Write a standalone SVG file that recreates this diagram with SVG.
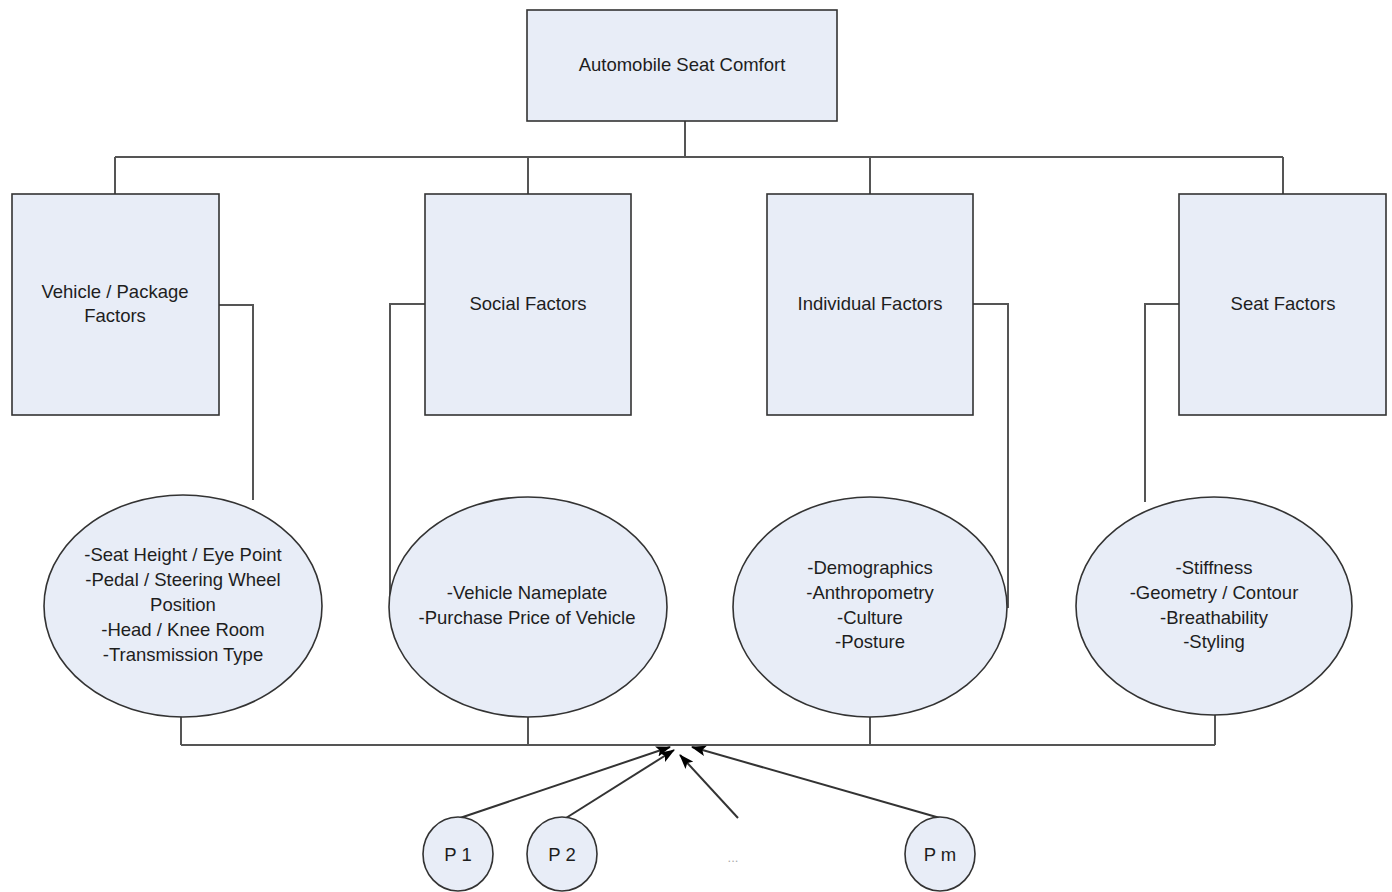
<svg xmlns="http://www.w3.org/2000/svg" width="1392" height="892" viewBox="0 0 1392 892">
<style>
.n{fill:#e8edf7;stroke:#333;stroke-width:1.6}
.t{font-family:"Liberation Sans",Arial,sans-serif;font-size:18.5px;fill:#1e1e1e;text-anchor:middle}
.c{fill:none;stroke:#555;stroke-width:2}
.a{fill:none;stroke:#333;stroke-width:2;marker-end:url(#ah)}
</style>
<defs>
<marker id="ah" viewBox="0 0 14 10" refX="13" refY="5" markerWidth="15" markerHeight="11" markerUnits="userSpaceOnUse" orient="auto">
<path d="M0,0 L14,5 L0,10 L3,5 Z" fill="#000"/>
</marker>
</defs>
<rect width="1392" height="892" fill="#fff"/>
<g id="connectors">
<path class="c" d="M685,121 V157 M115,157 H1283 M115,157 V194 M528,157 V194 M870,157 V194 M1283,157 V194"/>
<path class="c" d="M219,305 H253 V500"/>
<path class="c" d="M425,304 H390 V608"/>
<path class="c" d="M973,304 H1008 V608"/>
<path class="c" d="M1179,304 H1145 V502"/>
<path class="c" d="M181,717 V745 M528,717 V745 M870,717 V745 M1215,715 V745 M181,745 H1215"/>
<path class="a" d="M460,818 L670,747"/>
<path class="a" d="M566,818 L674,750"/>
<path class="a" d="M738,818 L680,755"/>
<path class="a" d="M940,818 L692,747"/>
</g>
<g id="root"><rect class="n" x="527" y="10" width="310" height="111"/><text class="t" x="682" y="71">Automobile Seat Comfort</text></g>
<g id="vehicle"><rect class="n" x="12" y="194" width="207" height="221"/><text class="t" x="115" y="298">Vehicle / Package</text><text class="t" x="115" y="322">Factors</text></g>
<g id="social"><rect class="n" x="425" y="194" width="206" height="221"/><text class="t" x="528" y="310">Social Factors</text></g>
<g id="individual"><rect class="n" x="767" y="194" width="206" height="221"/><text class="t" x="870" y="310">Individual Factors</text></g>
<g id="seat"><rect class="n" x="1179" y="194" width="207" height="221"/><text class="t" x="1283" y="310">Seat Factors</text></g>
<g id="vehicle-items"><ellipse class="n" cx="183" cy="606" rx="139" ry="111"/>
<text class="t" x="183" y="561">-Seat Height / Eye Point</text><text class="t" x="183" y="586">-Pedal / Steering Wheel</text><text class="t" x="183" y="611">Position</text><text class="t" x="183" y="636">-Head / Knee Room</text><text class="t" x="183" y="661">-Transmission Type</text></g>
<g id="social-items"><ellipse class="n" cx="528" cy="607" rx="139" ry="110"/>
<text class="t" x="527" y="599">-Vehicle Nameplate</text><text class="t" x="527" y="624">-Purchase Price of Vehicle</text></g>
<g id="individual-items"><ellipse class="n" cx="870" cy="607" rx="137" ry="110"/>
<text class="t" x="870" y="574">-Demographics</text><text class="t" x="870" y="599">-Anthropometry</text><text class="t" x="870" y="624">-Culture</text><text class="t" x="870" y="648">-Posture</text></g>
<g id="seat-items"><ellipse class="n" cx="1214" cy="606" rx="138" ry="109"/>
<text class="t" x="1214" y="574">-Stiffness</text><text class="t" x="1214" y="599">-Geometry / Contour</text><text class="t" x="1214" y="624">-Breathability</text><text class="t" x="1214" y="648">-Styling</text></g>
<g id="p1"><ellipse class="n" cx="458" cy="854" rx="35" ry="37"/><text class="t" x="458" y="861">P 1</text></g>
<g id="p2"><ellipse class="n" cx="562" cy="854" rx="35" ry="37"/><text class="t" x="562" y="861">P 2</text></g>
<g id="dots"><text x="733" y="862" style="font-family:'Liberation Sans',Arial,sans-serif;font-size:13px;fill:#aaa;text-anchor:middle">...</text></g>
<g id="pm"><ellipse class="n" cx="940" cy="854" rx="35" ry="37"/><text class="t" x="940" y="861">P m</text></g>
</svg>
